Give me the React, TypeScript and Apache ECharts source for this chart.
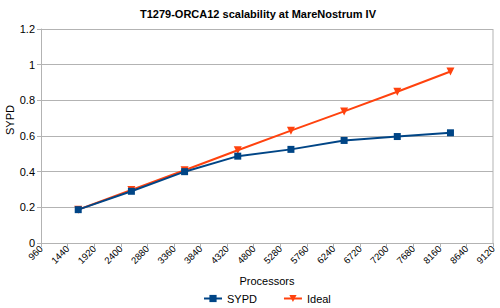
import React, { useEffect, useRef } from "react";
import * as echarts from "echarts";

const processors = [1632, 2592, 3552, 4512, 5472, 6432, 7392, 8352];
const sypd = [0.187, 0.29, 0.4, 0.487, 0.525, 0.575, 0.597, 0.618];
const ideal = [0.187, 0.297, 0.408, 0.52, 0.63, 0.738, 0.848, 0.962];

const FONT = "Liberation Sans";

export default function App() {
  const ref = useRef<HTMLDivElement>(null);
  useEffect(() => {
    document.body.style.margin = "0";
    if (!ref.current) return;
    const chart = echarts.init(ref.current, undefined, { renderer: "svg" });
    chart.setOption({
      animation: false,
      backgroundColor: "#ffffff",
      textStyle: { fontFamily: FONT },
      title: {
        text: "T1279-ORCA12 scalability at MareNostrum IV",
        left: 253,
        textAlign: "center",
        top: 3,
        textStyle: { fontFamily: FONT, fontSize: 11, fontWeight: "bold", color: "#000" },
      },
      legend: {
        bottom: 4,
        left: 203,
        padding: 0,
        itemWidth: 18,
        itemHeight: 9,
        itemGap: 26,
        textStyle: { fontFamily: FONT, fontSize: 11, color: "#000" },
        data: ["SYPD", "Ideal"],
      },
      grid: {
        left: 41,
        right: 7,
        top: 29,
        bottom: 65,
        containLabel: false,
        outerBoundsMode: "none",
      },
      xAxis: {
        type: "value",
        min: 960,
        max: 9120,
        interval: 480,
        name: "Processors",
        nameLocation: "middle",
        nameGap: 32,
        nameTextStyle: { fontFamily: FONT, fontSize: 11, color: "#000" },
        axisLine: { show: true, lineStyle: { color: "#b3b3b3" } },
        axisTick: { show: true, length: 4, lineStyle: { color: "#b3b3b3" } },
        axisLabel: {
          rotate: 45,
          fontSize: 9.5,
          color: "#000",
          margin: 4,
          fontFamily: FONT,
          formatter: (v: number) => String(v),
        },
        splitLine: { show: false },
      },
      yAxis: {
        type: "value",
        min: 0,
        max: 1.2,
        interval: 0.2,
        axisLine: { show: true, lineStyle: { color: "#b3b3b3" } },
        axisTick: { show: true, length: 4, lineStyle: { color: "#b3b3b3" } },
        axisLabel: { fontSize: 11, color: "#000", margin: 6, fontFamily: FONT },
        splitLine: { show: true, lineStyle: { color: "#b3b3b3", width: 1 } },
      },
      graphic: [
        {
          type: "line",
          shape: { x1: 493, y1: 29, x2: 493, y2: 243 },
          style: { stroke: "#b3b3b3", lineWidth: 1 },
        },
        {
          type: "text",
          x: 9.5,
          y: 120,
          rotation: Math.PI / 2,
          style: {
            text: "SYPD",
            fontFamily: FONT,
            fontSize: 11,
            fill: "#000",
            align: "center",
            verticalAlign: "middle",
          },
        },
      ],
      series: [
        {
          name: "SYPD",
          type: "line",
          data: processors.map((p, i) => [p, sypd[i]]),
          symbol: "rect",
          symbolSize: 7,
          lineStyle: { color: "#004586", width: 2 },
          itemStyle: { color: "#004586" },
          z: 3,
        },
        {
          name: "Ideal",
          type: "line",
          data: processors.map((p, i) => [p, ideal[i]]),
          symbol: "triangle",
          symbolRotate: 180,
          symbolSize: 8,
          lineStyle: { color: "#ff420e", width: 2 },
          itemStyle: { color: "#ff420e" },
          z: 2,
        },
      ],
    });
    return () => chart.dispose();
  }, []);
  return <div ref={ref} style={{ width: 500, height: 308 }} />;
}
